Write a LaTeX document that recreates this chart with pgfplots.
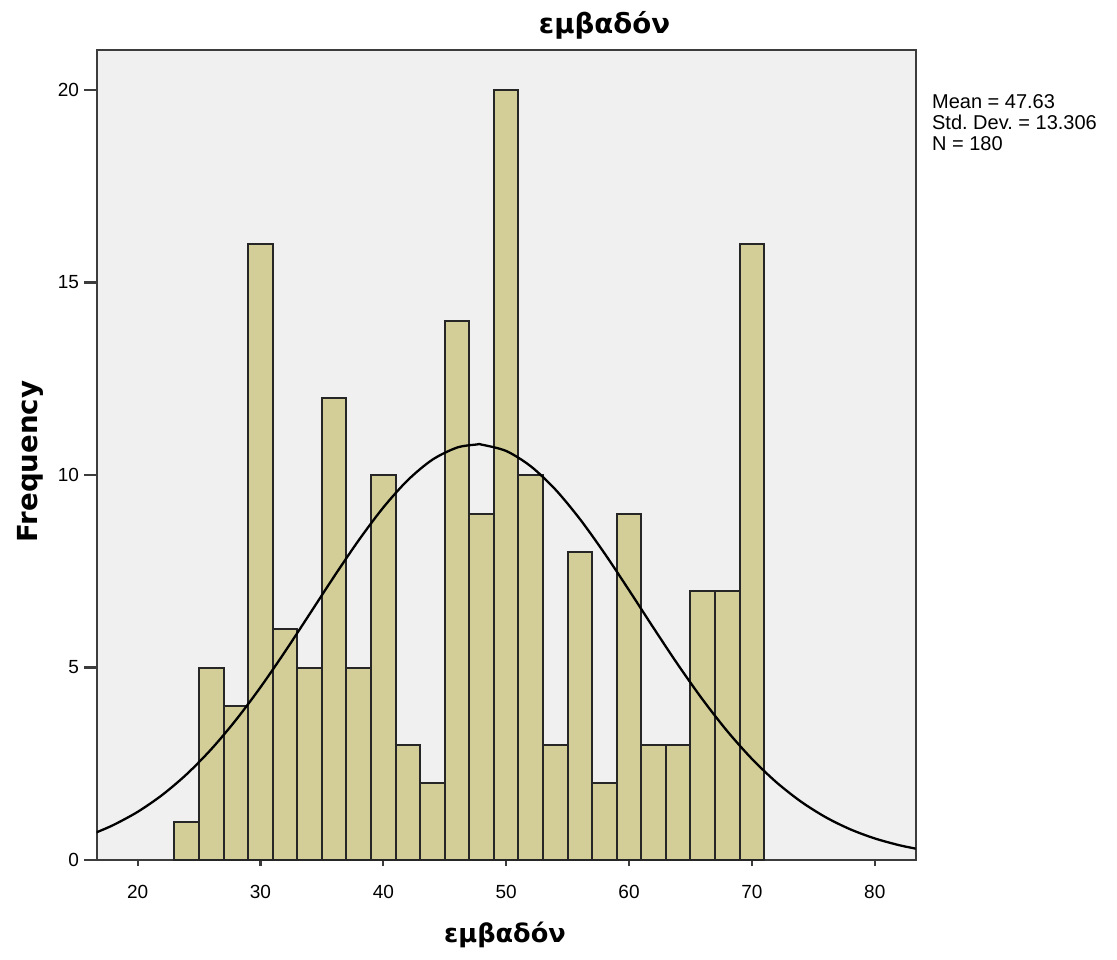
\documentclass[border=0pt]{standalone}
\usepackage{pgfplots}
\pgfplotsset{compat=1.18}
\usepackage{fontspec}
\setmainfont{Liberation Sans}
\newfontfamily\labelfont{DejaVu Sans}

\definecolor{barfill}{RGB}{211,206,151}
\definecolor{plotbg}{RGB}{240,240,240}
\definecolor{framecol}{RGB}{60,60,60}

% Histogram counts: left bin edge, frequency (bins of width 2)
\pgfplotstableread{
edge freq
23 1
25 5
27 4
29 16
31 6
33 5
35 12
37 5
39 10
41 3
43 2
45 14
47 9
49 20
51 10
53 3
55 8
57 2
59 9
61 3
63 3
65 7
67 7
69 16
71 16
}\histdata

% Fitted normal curve (mean 47.63, sd 13.306, N = 180, bin width 2)
\pgfplotstableread{
x y
16.5 0.699
18 0.905
20 1.250
22 1.689
24 2.230
26 2.880
28 3.636
30 4.487
32 5.414
34 6.388
36 7.367
38 8.307
40 9.158
42 9.870
44 10.400
46 10.713
47.63 10.794
48 10.790
50 10.624
52 10.227
54 9.625
56 8.856
58 7.967
60 7.007
62 6.024
64 5.064
66 4.162
68 3.344
70 2.627
72 2.017
74 1.515
76 1.112
78 0.798
80 0.560
82 0.384
83.5 0.285
}\curvedata

\begin{document}
\begin{tikzpicture}
\useasboundingbox (-48.35pt,-49.5pt) rectangle (510.15pt,430pt);
\begin{axis}[
  scale only axis,
  width=409.5pt, height=405pt,
  at={(0pt,0pt)}, anchor=south west,
  xmin=16.67, xmax=83.33,
  ymin=0, ymax=21.04,
  axis background/.style={fill=plotbg},
  axis line style={framecol, line width=1.1pt},
  xtick={20,30,40,50,60,70,80},
  ytick={0,5,10,15,20},
  xtick pos=bottom, ytick pos=left,
  tick align=outside,
  major tick length=6.3pt,
  xtick style={/pgfplots/major tick length=3pt},
  tick style={framecol, line width=1.1pt},
  /pgf/number format/assume math mode=true,
  tick label style={font=\fontsize{9.5}{10}\selectfont, text=black},
  xticklabel style={yshift=-3pt},
  yticklabel style={xshift=1pt},
]
\addplot[ybar interval, fill=barfill, draw=black!85, line width=1pt]
  table[x=edge, y=freq] {\histdata};
\addplot[black, line width=1.15pt, smooth, no marks]
  table[x=x, y=y] {\curvedata};
\end{axis}

% Title, axis titles and summary statistics
\node[anchor=base, font=\labelfont\bfseries\fontsize{13.8}{16}\selectfont] at (253.9pt,413pt) {εμβαδόν};
\node[anchor=base, font=\labelfont\bfseries\fontsize{12.8}{15}\selectfont] at (204.15pt,-41pt) {εμβαδόν};
\node[anchor=base, rotate=90, font=\labelfont\bfseries\fontsize{13.8}{16}\selectfont] at (-29.5pt,199.25pt) {Frequency};
\node[anchor=base west, font=\fontsize{10}{11}\selectfont, inner sep=0pt] at (417.5pt,375.85pt) {Mean = 47.63};
\node[anchor=base west, font=\fontsize{10}{11}\selectfont, inner sep=0pt] at (417.5pt,365.15pt) {Std.\ Dev.\ = 13.306};
\node[anchor=base west, font=\fontsize{10}{11}\selectfont, inner sep=0pt] at (417.5pt,354.5pt) {N = 180};
\end{tikzpicture}
\end{document}
